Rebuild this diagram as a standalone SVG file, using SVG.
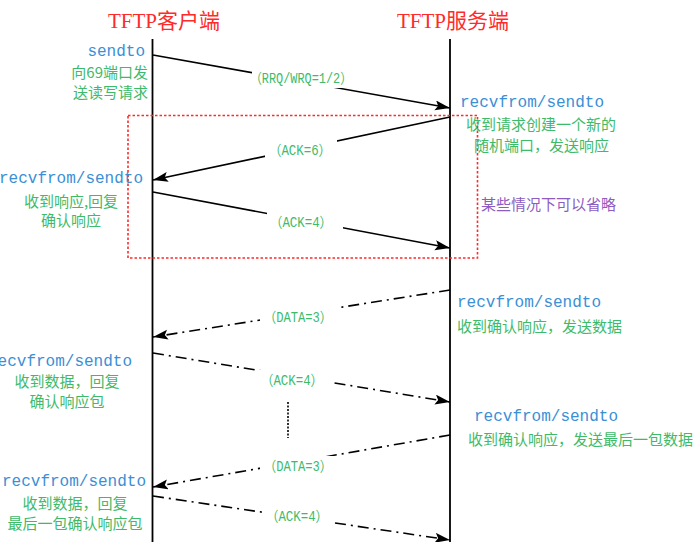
<svg xmlns="http://www.w3.org/2000/svg" width="699" height="542" viewBox="0 0 699 542">
<defs>
<marker id="ah" markerUnits="userSpaceOnUse" markerWidth="16" markerHeight="12" refX="15" refY="5" orient="auto">
<path d="M0,0 L15,5 L0,10 L3,5 Z" fill="#000"/>
</marker>
<style>
.title{font-family:"Liberation Serif","Noto Sans CJK SC",serif;font-size:21px;fill:#ff2a2a}
.fn{font-family:"Liberation Mono","Noto Sans CJK SC",monospace;font-size:16px;fill:#3a8fd6}
.cn{font-family:"Noto Sans CJK SC",sans-serif;font-size:15px;fill:#3dbb6a}
.lbl{font-family:"Liberation Mono","Noto Sans CJK SC",monospace;font-size:14px;fill:#3dbb6a;text-anchor:middle}
.note{font-family:"Noto Sans CJK SC",sans-serif;font-size:15px;fill:#8d5cc2}
.life{stroke:#000;stroke-width:1.8;fill:none}
.msg{stroke:#000;stroke-width:1.6;fill:none}
.dd{stroke-dasharray:11,5,2,5}
.bg{fill:#fff}
</style>
</defs>
<rect width="699" height="542" fill="#fff"/>

<g id="client">
<text class="title" x="108" y="28">TFTP客户端</text>
<line class="life" x1="152.5" y1="39" x2="152.5" y2="542"/>
</g>
<g id="server">
<text class="title" x="397" y="28">TFTP服务端</text>
<line class="life" x1="450" y1="39" x2="450" y2="542"/>
</g>

<g id="omit-box">
<rect x="128" y="115.5" width="349.5" height="142.5" fill="none" stroke="#ff2a2a" stroke-width="1.6" stroke-dasharray="2.5,2"/>
<text class="note" x="481" y="210">某些情况下可以省略</text>
</g>

<g id="connectors">
<line class="msg" x1="153" y1="55" x2="450" y2="108" marker-end="url(#ah)"/>
<line class="msg" x1="450" y1="117" x2="153" y2="180" marker-end="url(#ah)"/>
<line class="msg" x1="153" y1="192" x2="450" y2="248" marker-end="url(#ah)"/>
<line class="msg dd" x1="450" y1="290" x2="153" y2="337" marker-end="url(#ah)"/>
<line class="msg dd" x1="153" y1="353" x2="450" y2="402" marker-end="url(#ah)"/>
<line class="msg dd" x1="450" y1="435" x2="153" y2="487" marker-end="url(#ah)"/>
<line class="msg dd" x1="153" y1="496" x2="450" y2="540" marker-end="url(#ah)"/>
<line x1="288" y1="402" x2="288" y2="438" stroke="#333" stroke-width="2" stroke-dasharray="2,1.5"/>
</g>

<g id="labels">
<rect class="bg" x="252" y="68" width="98" height="20"/>
<text class="lbl" x="301" y="83" textLength="102" lengthAdjust="spacingAndGlyphs">（RRQ/WRQ=1/2）</text>
<rect class="bg" x="265" y="140" width="72" height="20"/>
<text class="lbl" x="300" y="155" textLength="62" lengthAdjust="spacingAndGlyphs">（ACK=6）</text>
<rect class="bg" x="267" y="212" width="76" height="20"/>
<text class="lbl" x="301" y="227" textLength="62" lengthAdjust="spacingAndGlyphs">（ACK=4）</text>
<rect class="bg" x="260" y="307" width="78" height="20"/>
<text class="lbl" x="298" y="322" textLength="68" lengthAdjust="spacingAndGlyphs">（DATA=3）</text>
<rect class="bg" x="258" y="370" width="72" height="20"/>
<text class="lbl" x="292" y="385" textLength="62" lengthAdjust="spacingAndGlyphs">（ACK=4）</text>
<rect class="bg" x="260" y="456" width="78" height="20"/>
<text class="lbl" x="298" y="471" textLength="68" lengthAdjust="spacingAndGlyphs">（DATA=3）</text>
<rect class="bg" x="262" y="506" width="72" height="20"/>
<text class="lbl" x="297" y="521" textLength="62" lengthAdjust="spacingAndGlyphs">（ACK=4）</text>
</g>

<g id="client-notes">
<text class="fn" x="145" y="56" text-anchor="end">sendto</text>
<text class="cn" x="148" y="78" text-anchor="end">向69端口发</text>
<text class="cn" x="148" y="98" text-anchor="end">送读写请求</text>

<text class="fn" x="143" y="183" text-anchor="end">recvfrom/sendto</text>
<text class="cn" x="71" y="207" text-anchor="middle">收到响应,回复</text>
<text class="cn" x="71" y="226" text-anchor="middle">确认响应</text>

<text class="fn" x="132" y="366" text-anchor="end">recvfrom/sendto</text>
<text class="cn" x="67" y="387" text-anchor="middle">收到数据，回复</text>
<text class="cn" x="67" y="407" text-anchor="middle">确认响应包</text>

<text class="fn" x="146" y="486" text-anchor="end">recvfrom/sendto</text>
<text class="cn" x="75" y="509" text-anchor="middle">收到数据，回复</text>
<text class="cn" x="75" y="529" text-anchor="middle">最后一包确认响应包</text>
</g>

<g id="server-notes">
<text class="fn" x="460" y="107">recvfrom/sendto</text>
<text class="cn" x="466" y="130">收到请求创建一个新的</text>
<text class="cn" x="474" y="151">随机端口，发送响应</text>

<text class="fn" x="457" y="307">recvfrom/sendto</text>
<text class="cn" x="457" y="332">收到确认响应，发送数据</text>

<text class="fn" x="474" y="421">recvfrom/sendto</text>
<text class="cn" x="468" y="445">收到确认响应，发送最后一包数据</text>
</g>
</svg>
